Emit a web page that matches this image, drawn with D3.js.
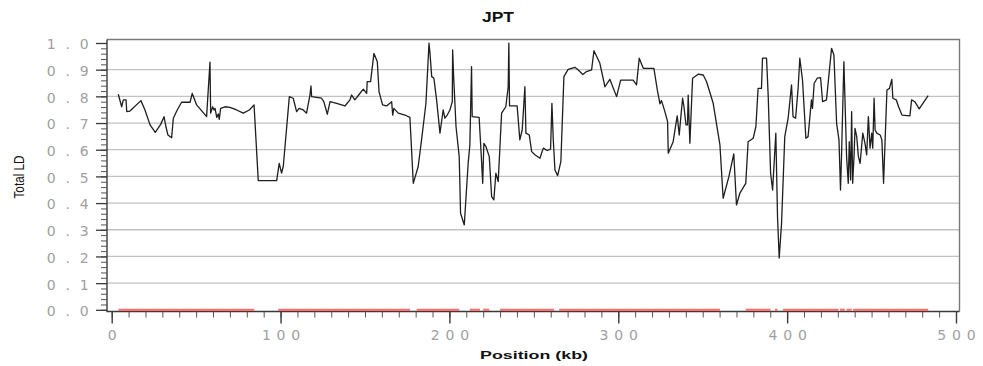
<!DOCTYPE html>
<html>
<head>
<meta charset="utf-8">
<script src="https://cdn.jsdelivr.net/npm/d3@7"></script>
<style>
  html, body { margin: 0; padding: 0; background: #fff; }
  svg { display: block; }
</style>
</head>
<body>
<svg id="chart" width="983" height="366"></svg>
<script>
// Total LD along the region (position in kb, LD value)
const positionKb = [
  3.9, 5.9, 6.9, 8.5, 8.9, 10.8, 17.3, 19.7, 22.7, 25.8, 29.0, 31.0, 32.1, 33.3, 35.5, 36.5, 38.8, 41.4, 46.4, 47.7,
  50.3, 54.2, 56.2, 58.2, 58.6, 59.8, 60.6, 61.2, 62.2, 63.1, 63.7, 64.5, 67.1, 70.0, 74.0, 77.9, 81.5, 84.3, 86.8, 97.7,
  99.2, 100.6, 101.6, 105.2, 107.5, 109.5, 111.0, 113.4, 115.4, 117.4, 118.0, 118.4, 124.3, 125.6, 127.7, 129.3, 133.2, 138.1, 141.1, 142.1,
  144.0, 146.6, 149.0, 151.0, 151.3, 153.3, 155.3, 157.3, 158.3, 160.4, 162.8, 165.8, 166.4, 167.1, 169.7, 173.7, 176.6, 178.6, 181.5, 183.5,
  186.1, 187.9, 188.5, 189.5, 190.8, 192.4, 194.4, 196.3, 197.3, 198.7, 200.3, 201.7, 201.9, 202.5, 203.9, 205.8, 206.6, 208.8, 211.1, 212.1,
  213.1, 213.5, 217.6, 219.1, 219.7, 220.4, 221.6, 223.6, 225.0, 226.3, 227.5, 228.9, 230.9, 233.4, 234.8, 235.2, 235.6, 240.1, 241.7, 243.1,
  244.7, 245.3, 247.3, 248.7, 250.6, 253.6, 255.6, 257.9, 259.9, 260.7, 261.5, 262.5, 264.1, 266.0, 267.8, 270.3, 274.3, 276.3, 279.0, 281.2,
  284.2, 285.6, 289.1, 292.1, 295.0, 299.0, 301.4, 308.8, 310.8, 312.4, 314.8, 321.1, 323.1, 324.7, 325.6, 327.6, 329.2, 329.6, 332.5, 334.9,
  336.1, 337.1, 338.1, 338.9, 340.1, 341.0, 341.4, 342.4, 344.0, 347.3, 350.3, 352.3, 356.2, 360.2, 362.1, 365.5, 368.4, 370.0, 372.0, 375.5,
  376.9, 379.9, 381.5, 382.8, 384.8, 385.4, 387.8, 388.8, 390.2, 391.4, 393.3, 394.3, 395.3, 396.7, 398.6, 400.6, 402.6, 403.5, 405.0, 406.5,
  407.5, 409.1, 411.1, 412.4, 414.4, 415.0, 416.0, 417.8, 419.8, 421.0, 423.3, 426.3, 427.7, 429.3, 430.7, 431.6, 432.2, 433.6, 434.2, 435.2,
  436.2, 436.8, 437.6, 438.2, 438.8, 439.6, 440.2, 441.2, 442.2, 443.2, 444.8, 446.1, 447.1, 448.1, 449.1, 450.1, 450.7, 451.5, 452.1, 453.1,
  455.1, 456.1, 457.1, 458.1, 459.1, 460.6, 462.0, 462.6, 464.6, 466.0, 468.0, 472.7, 473.7, 475.6, 478.2, 483.5
];
const totalLD = [
  0.808, 0.761, 0.787, 0.787, 0.743, 0.745, 0.784, 0.749, 0.693, 0.665, 0.695, 0.724, 0.687, 0.655, 0.645, 0.718, 0.749, 0.778, 0.778, 0.811,
  0.768, 0.739, 0.724, 0.928, 0.737, 0.761, 0.749, 0.755, 0.721, 0.734, 0.714, 0.755, 0.761, 0.759, 0.749, 0.737, 0.749, 0.768, 0.484, 0.484,
  0.549, 0.512, 0.537, 0.799, 0.793, 0.743, 0.755, 0.749, 0.737, 0.805, 0.839, 0.799, 0.793, 0.780, 0.733, 0.780, 0.774, 0.764, 0.787, 0.805,
  0.787, 0.808, 0.827, 0.811, 0.855, 0.855, 0.961, 0.930, 0.818, 0.768, 0.764, 0.780, 0.730, 0.755, 0.737, 0.730, 0.721, 0.474, 0.537, 0.637,
  0.774, 0.999, 0.961, 0.874, 0.868, 0.787, 0.662, 0.749, 0.718, 0.730, 0.749, 0.780, 0.974, 0.874, 0.687, 0.574, 0.362, 0.318, 0.549, 0.618,
  0.911, 0.724, 0.721, 0.549, 0.474, 0.624, 0.612, 0.574, 0.424, 0.412, 0.512, 0.481, 0.737, 0.761, 0.836, 0.999, 0.764, 0.764, 0.637, 0.674,
  0.836, 0.662, 0.655, 0.593, 0.581, 0.568, 0.606, 0.597, 0.602, 0.774, 0.637, 0.524, 0.503, 0.555, 0.874, 0.901, 0.909, 0.899, 0.882, 0.893,
  0.899, 0.971, 0.924, 0.836, 0.864, 0.799, 0.861, 0.861, 0.843, 0.943, 0.905, 0.905, 0.824, 0.772, 0.784, 0.743, 0.705, 0.587, 0.630, 0.727,
  0.655, 0.727, 0.793, 0.761, 0.693, 0.693, 0.805, 0.624, 0.868, 0.883, 0.880, 0.855, 0.774, 0.618, 0.418, 0.499, 0.584, 0.393, 0.437, 0.474,
  0.630, 0.643, 0.687, 0.830, 0.830, 0.943, 0.943, 0.799, 0.512, 0.449, 0.662, 0.349, 0.194, 0.325, 0.649, 0.718, 0.843, 0.724, 0.718, 0.830,
  0.943, 0.861, 0.643, 0.649, 0.787, 0.755, 0.849, 0.868, 0.870, 0.780, 0.787, 0.980, 0.955, 0.699, 0.637, 0.449, 0.574, 0.930, 0.799, 0.574,
  0.474, 0.630, 0.487, 0.743, 0.474, 0.574, 0.680, 0.649, 0.574, 0.549, 0.662, 0.624, 0.581, 0.724, 0.606, 0.662, 0.606, 0.793, 0.674, 0.662,
  0.655, 0.637, 0.474, 0.649, 0.824, 0.830, 0.864, 0.793, 0.787, 0.761, 0.730, 0.727, 0.787, 0.780, 0.753, 0.803
];

// Covered stretches drawn along LD = 0 (start kb, end kb)
const segmentStart = [4.0, 98.6, 180.6, 212.1, 220.0, 229.9, 265.0, 375.5, 392.8, 397.6, 431.3, 435.2, 439.1];
const segmentEnd   = [84.4, 176.6, 205.8, 218.1, 223.6, 262.0, 360.2, 390.2, 394.3, 430.4, 434.2, 438.2, 483.5];

const yTickValues = [0, 0.1, 0.2, 0.3, 0.4, 0.5, 0.6, 0.7, 0.8, 0.9, 1.0];
const xTickValues = [0, 100, 200, 300, 400, 500];

const titleText = "JPT";
const xTitle = "Position  (kb)";
const yTitle = "Total LD";

const svg = d3.select("#chart");

const frame = { left: 107, right: 959.5, top: 39.5, bottom: 311.5 };
const x = d3.scaleLinear().domain([0, 500]).range([111.7, 956]);
const y = d3.scaleLinear().domain([0, 1]).range([309.8, 43]);

// horizontal grid
svg.append("g")
  .selectAll("line")
  .data(yTickValues.filter(v => v > 0 && v < 1))
  .join("line")
  .attr("x1", frame.left).attr("x2", frame.right)
  .attr("y1", d => y(d)).attr("y2", d => y(d))
  .attr("stroke", "#c2c2c2")
  .attr("stroke-width", 1.3);

// frame (top + right lighter, left + bottom axis lines darker)
svg.append("path")
  .attr("d", `M${frame.left},${frame.top}H${frame.right}V${frame.bottom}`)
  .attr("fill", "none").attr("stroke", "#7a7a7a").attr("stroke-width", 1.4);
svg.append("path")
  .attr("d", `M${frame.left},${frame.top}V${frame.bottom}H${frame.right}`)
  .attr("fill", "none").attr("stroke", "#3a3a3a").attr("stroke-width", 1.4);

// y axis: minor + major ticks
const yMinor = d3.range(0, 1.0001, 0.02);
const yMinorAxis = svg.append("g")
  .attr("transform", `translate(${frame.left},0)`)
  .call(d3.axisLeft(y).tickValues(yMinor).tickSize(6).tickFormat(""));
yMinorAxis.select(".domain").remove();
yMinorAxis.selectAll("line").attr("stroke", "#555").attr("stroke-width", 1);

const yAxis = svg.append("g")
  .attr("transform", `translate(${frame.left},0)`)
  .call(d3.axisLeft(y).tickValues(yTickValues).tickSize(11).tickFormat(d => d.toFixed(1)));
yAxis.select(".domain").remove();
yAxis.selectAll("line").attr("stroke", "#3a3a3a").attr("stroke-width", 1.3);
yAxis.selectAll("text")
  .attr("x", -8.5)
  .attr("dy", "0.42em")
  .style("font-family", "'DejaVu Sans', sans-serif")
  .style("font-size", "14px")
  .style("letter-spacing", "9.8px")
  .attr("fill", "#a0a0a0");

// x axis: minor + major ticks
const xMinor = d3.range(0, 501, 10);
const xMinorAxis = svg.append("g")
  .attr("transform", `translate(0,${frame.bottom})`)
  .call(d3.axisBottom(x).tickValues(xMinor).tickSize(6).tickFormat(""));
xMinorAxis.select(".domain").remove();
xMinorAxis.selectAll("line").attr("stroke", "#555").attr("stroke-width", 1);

const xAxis = svg.append("g")
  .attr("transform", `translate(0,${frame.bottom})`)
  .call(d3.axisBottom(x).tickValues(xTickValues).tickSize(12).tickFormat(d3.format("d")));
xAxis.select(".domain").remove();
xAxis.selectAll("line").attr("stroke", "#3a3a3a").attr("stroke-width", 1.4);
xAxis.selectAll("text")
  .attr("y", 28.5)
  .attr("dy", 0)
  .attr("dx", 2.9)
  .style("font-family", "'DejaVu Sans', sans-serif")
  .style("font-size", "14px")
  .style("letter-spacing", "5.8px")
  .attr("fill", "#a0a0a0");

// covered stretches at LD = 0
svg.append("g")
  .selectAll("line")
  .data(d3.zip(segmentStart, segmentEnd))
  .join("line")
  .attr("x1", d => x(d[0])).attr("x2", d => x(d[1]))
  .attr("y1", y(0)).attr("y2", y(0))
  .attr("stroke", "#ff6f6f")
  .attr("stroke-width", 2.2);

// LD trace
const points = d3.zip(positionKb, totalLD);
svg.append("path")
  .datum(points)
  .attr("fill", "none")
  .attr("stroke", "#1e1e1e")
  .attr("stroke-width", 1.3)
  .attr("stroke-linejoin", "round")
  .attr("d", d3.line().x(d => x(d[0])).y(d => y(d[1])));

// titles
svg.append("text")
  .attr("x", 498).attr("y", 22)
  .attr("text-anchor", "middle")
  .attr("textLength", 32).attr("lengthAdjust", "spacingAndGlyphs")
  .style("font-family", "'Liberation Sans', Arial, sans-serif")
  .style("font-weight", "bold").style("font-size", "14px")
  .attr("fill", "#111")
  .text(titleText);

svg.append("text")
  .attr("x", 534).attr("y", 358.5)
  .attr("text-anchor", "middle")
  .attr("textLength", 108).attr("lengthAdjust", "spacingAndGlyphs")
  .style("font-family", "'Liberation Sans', Arial, sans-serif")
  .style("font-weight", "bold").style("font-size", "11.5px")
  .attr("fill", "#111")
  .text(xTitle);

svg.append("text")
  .attr("transform", "translate(23.5,177) rotate(-90)")
  .attr("text-anchor", "middle")
  .attr("textLength", 43).attr("lengthAdjust", "spacingAndGlyphs")
  .style("font-family", "'Liberation Sans', Arial, sans-serif")
  .style("font-size", "14px")
  .attr("fill", "#111")
  .text(yTitle);
</script>
</body>
</html>
